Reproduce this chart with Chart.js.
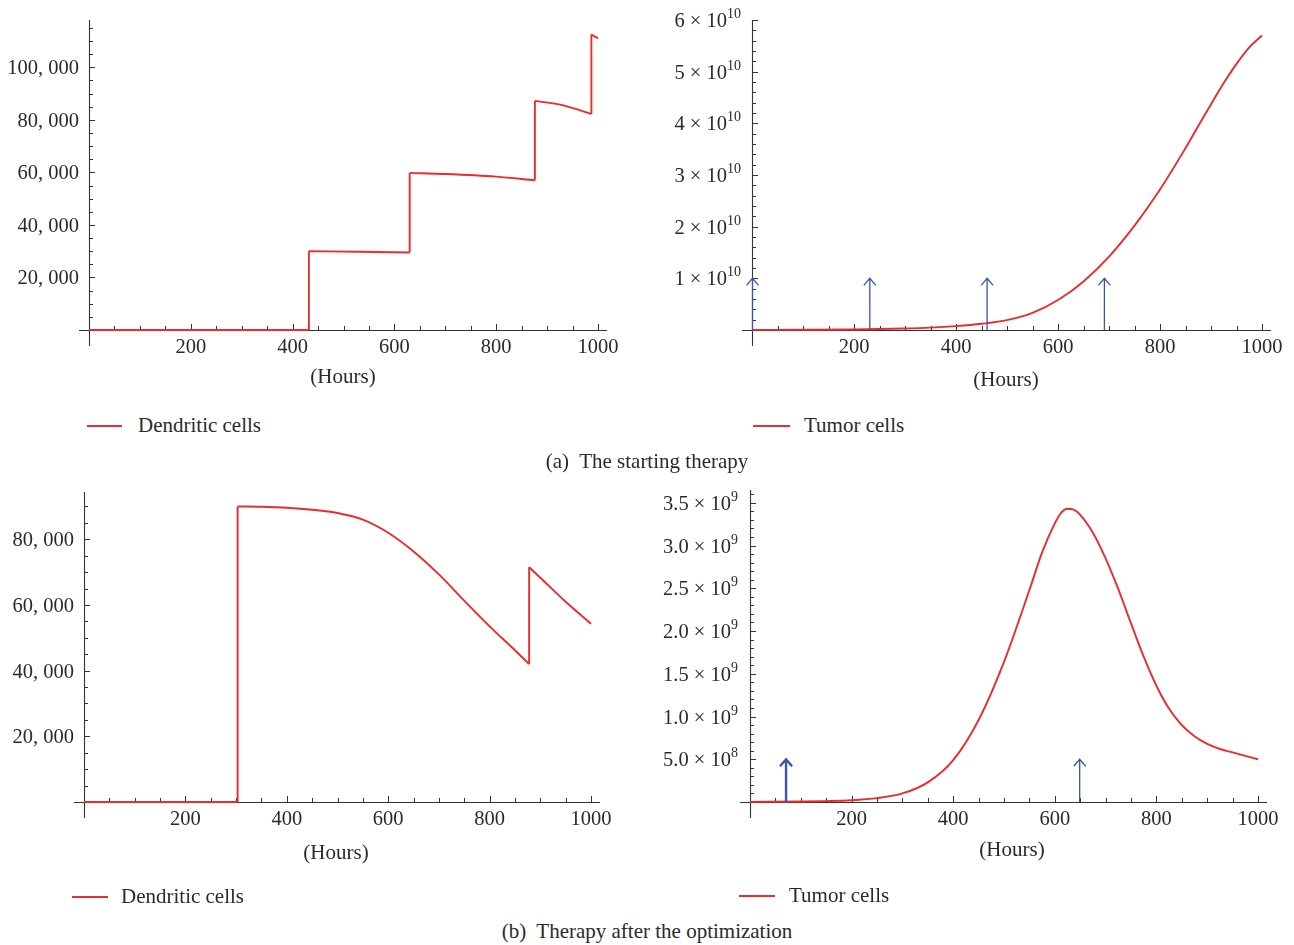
<!DOCTYPE html>
<html><head><meta charset="utf-8">
<script src="https://cdn.jsdelivr.net/npm/chart.js@4/dist/chart.umd.min.js"></script>
<style>
body{margin:0;background:#fff;width:1294px;height:945px;position:relative;overflow:hidden;font-family:"Liberation Serif","DejaVu Serif",serif;color:#2a2a2a}
canvas{position:absolute}
.t{position:absolute;font-size:21px;white-space:nowrap;line-height:22px}
.ctr{transform:translateX(-50%)}
.lg{position:absolute;height:2px;background:#ee2d2d}
</style></head><body>
<canvas id="c1" width="640" height="400" style="left:0;top:0"></canvas>
<canvas id="c2" width="654" height="400" style="left:640px;top:0"></canvas>
<canvas id="c3" width="640" height="430" style="left:0;top:470px"></canvas>
<canvas id="c4" width="654" height="430" style="left:640px;top:470px"></canvas>

<div class="t ctr" style="left:343px;top:365px">(Hours)</div>
<div class="t ctr" style="left:1006px;top:368px">(Hours)</div>
<div class="t ctr" style="left:336px;top:841px">(Hours)</div>
<div class="t ctr" style="left:1012px;top:838px">(Hours)</div>

<div class="lg" style="left:87px;top:425px;width:35px"></div>
<div class="t" style="left:138px;top:414px">Dendritic cells</div>
<div class="lg" style="left:753px;top:425px;width:37px"></div>
<div class="t" style="left:804px;top:414px">Tumor cells</div>
<div class="t ctr" style="left:647px;top:450px">(a)&nbsp; The starting therapy</div>

<div class="lg" style="left:72px;top:896px;width:36px"></div>
<div class="t" style="left:121px;top:885px">Dendritic cells</div>
<div class="lg" style="left:739px;top:895px;width:36px"></div>
<div class="t" style="left:789px;top:884px">Tumor cells</div>
<div class="t ctr" style="left:647px;top:920px">(b)&nbsp; Therapy after the optimization</div>

<script>
// ---------- DATA ----------
const xMajorTicks = [200, 400, 600, 800, 1000];

// (a) starting therapy: dendritic cells
const dcA_hours  = [0, 432, 432, 530, 630, 630, 700, 800, 876, 876, 930, 987, 987, 1000];
const dcA_values = [0, 0, 30000, 29800, 29500, 59800, 59400, 58400, 57000, 87200, 85600, 82200, 112500, 111000];
const dcA_yTicks = [20000, 40000, 60000, 80000, 100000];

// (a) starting therapy: tumor cells
const tcA_hours  = [0, 100, 200, 300, 350, 400, 450, 500, 550, 600, 650, 700, 750, 800, 850, 875, 900, 925, 950, 975, 1000];
const tcA_values = [0.002e10, 0.004e10, 0.01e10, 0.028e10, 0.045e10, 0.075e10, 0.12e10, 0.19e10, 0.33e10, 0.58e10, 0.94e10, 1.42e10, 2.02e10, 2.72e10, 3.52e10, 3.95e10, 4.37e10, 4.78e10, 5.15e10, 5.47e10, 5.7e10];
const tcA_doses  = [0, 230, 460, 690];
const tcA_yTicks = [1e10, 2e10, 3e10, 4e10, 5e10, 6e10];
const tcA_yLabels = [["1 × 10","10"],["2 × 10","10"],["3 × 10","10"],["4 × 10","10"],["5 × 10","10"],["6 × 10","10"]];

// (b) after optimization: dendritic cells
const dcB_hours  = [0, 303, 303, 350, 400, 450, 500, 550, 600, 650, 700, 750, 800, 850, 878, 878, 900, 950, 1000];
const dcB_values = [0, 0, 90000, 89900, 89600, 89000, 88000, 86000, 82000, 76300, 69300, 61300, 53500, 46200, 42000, 71500, 68300, 61000, 54300];
const dcB_yTicks = [20000, 40000, 60000, 80000];

// (b) after optimization: tumor cells
const tcB_hours  = [0, 100, 150, 200, 250, 300, 350, 400, 450, 500, 550, 575, 600, 612, 625, 637, 650, 675, 700, 725, 750, 775, 800, 825, 850, 875, 900, 925, 950, 975, 1000];
const tcB_values = [0.001e9, 0.005e9, 0.01e9, 0.02e9, 0.045e9, 0.1e9, 0.23e9, 0.49e9, 0.96e9, 1.64e9, 2.48e9, 2.92e9, 3.26e9, 3.38e9, 3.43e9, 3.42e9, 3.36e9, 3.15e9, 2.85e9, 2.49e9, 2.09e9, 1.70e9, 1.36e9, 1.09e9, 0.90e9, 0.77e9, 0.68e9, 0.62e9, 0.58e9, 0.54e9, 0.5e9];
const tcB_doses  = [70, 648];
const tcB_yTicks = [0.5e9, 1e9, 1.5e9, 2e9, 2.5e9, 3e9, 3.5e9];
const tcB_yLabels = [["5.0 × 10","8"],["1.0 × 10","9"],["1.5 × 10","9"],["2.0 × 10","9"],["2.5 × 10","9"],["3.0 × 10","9"],["3.5 × 10","9"]];

// ---------- HELPERS ----------
const RED = '#ee2a2a', BLUE = '#3a54b0', AX = '#333';
const FONT = '"Liberation Serif","DejaVu Serif",serif';

function segments(hours, values) {
  const sets = []; let cur = [];
  for (let i = 0; i < hours.length; i++) {
    cur.push({x: hours[i], y: values[i]});
    if (i < hours.length - 1 && hours[i + 1] === hours[i]) {
      sets.push(cur);
      sets.push([{x: hours[i], y: values[i]}, {x: hours[i + 1], y: values[i + 1]}]);
      cur = [];
    }
  }
  sets.push(cur);
  return sets.map(d => ({data: d, borderColor: RED, borderWidth: 1.9, pointRadius: 0,
    cubicInterpolationMode: 'monotone', tension: 0.4, clip: false, fill: false}));
}

function fmtThousands(v) {
  const s = String(v);
  return s.slice(0, s.length - 3) + ', ' + s.slice(s.length - 3);
}

const mathAxes = {
  id: 'mathAxes',
  beforeDatasetsDraw(chart, args, o) {
    const ctx = chart.ctx, xs = chart.scales.x, ys = chart.scales.y;
    const x0 = xs.getPixelForValue(0), y0 = ys.getPixelForValue(0);
    const yTop = ys.getPixelForValue(ys.max);
    ctx.save();
    ctx.strokeStyle = AX; ctx.lineWidth = 1.1;
    ctx.beginPath();
    ctx.moveTo(x0 - 10, y0 + 0.5); ctx.lineTo(xs.getPixelForValue(1000) + 9, y0 + 0.5);
    ctx.moveTo(x0 + 0.5, yTop); ctx.lineTo(x0 + 0.5, y0 + 16);
    ctx.stroke();
    ctx.lineWidth = 1;
    ctx.beginPath();
    for (let v = 50; v <= 1000; v += 50) {
      const p = Math.round(xs.getPixelForValue(v)) + 0.5;
      const len = (v % 200 === 0) ? 6 : 4;
      ctx.moveTo(p, y0); ctx.lineTo(p, y0 - len);
    }
    for (let v = o.yMinor; v <= ys.max + 1; v += o.yMinor) {
      const p = Math.round(ys.getPixelForValue(v)) + 0.5;
      const major = o.yTicks.some(t => Math.abs(t - v) < o.yMinor / 10);
      ctx.moveTo(x0, p); ctx.lineTo(x0 + (major ? 6 : 4), p);
    }
    ctx.stroke();
    ctx.fillStyle = '#2a2a2a';
    ctx.font = '20.5px ' + FONT;
    ctx.textAlign = 'center'; ctx.textBaseline = 'alphabetic';
    xMajorTicks.forEach(v => ctx.fillText(String(v), xs.getPixelForValue(v), y0 + 23));
    ctx.textAlign = 'right';
    o.yTicks.forEach((v, i) => {
      const p = ys.getPixelForValue(v);
      const xr = x0 - o.gap;
      if (o.yLabels) {
        const [base, sup] = o.yLabels[i];
        ctx.font = '14px ' + FONT;
        const sw = ctx.measureText(sup).width;
        ctx.fillText(sup, xr, p - 2);
        ctx.font = '20.5px ' + FONT;
        ctx.fillText(base, xr - sw, p + 7);
      } else {
        ctx.fillText(fmtThousands(v), xr, p + 7);
      }
    });
    ctx.restore();
  },
  afterDatasetsDraw(chart, args, o) {
    if (!o.doses) return;
    const ctx = chart.ctx, xs = chart.scales.x, ys = chart.scales.y;
    const y0 = ys.getPixelForValue(0), yt = ys.getPixelForValue(o.doseLevel);
    ctx.save();
    ctx.strokeStyle = BLUE;
    o.doses.forEach((d, i) => {
      const p = xs.getPixelForValue(d) + 0.5;
      ctx.lineWidth = (o.boldFirst && i === 0) ? 2.4 : 1.3;
      ctx.beginPath();
      ctx.moveTo(p, y0); ctx.lineTo(p, yt);
      ctx.moveTo(p - 6, yt + 7); ctx.lineTo(p, yt); ctx.lineTo(p + 6, yt + 7);
      ctx.stroke();
    });
    ctx.restore();
  }
};

function makeChart(id, hours, values, pad, ymax, axOpts) {
  new Chart(document.getElementById(id), {
    type: 'line',
    data: {datasets: segments(hours, values)},
    options: {
      responsive: false, animation: false, devicePixelRatio: 1,
      layout: {padding: pad},
      scales: {
        x: {type: 'linear', min: 0, max: 1000, display: false},
        y: {type: 'linear', min: 0, max: ymax, display: false}
      },
      plugins: {legend: {display: false}, tooltip: {enabled: false}, mathAxes: axOpts},
      events: []
    },
    plugins: [mathAxes]
  });
}

makeChart('c1', dcA_hours, dcA_values, {left: 89, right: 42, top: 20, bottom: 70}, 118000,
  {yTicks: dcA_yTicks, yMinor: 5000, gap: 10});
makeChart('c2', tcA_hours, tcA_values, {left: 112, right: 32, top: 20, bottom: 70}, 6e10,
  {yTicks: tcA_yTicks, yLabels: tcA_yLabels, yMinor: 0.2e10, gap: 11, doses: tcA_doses, doseLevel: 1e10});
makeChart('c3', dcB_hours, dcB_values, {left: 84, right: 49, top: 22, bottom: 98}, 94400,
  {yTicks: dcB_yTicks, yMinor: 5000, gap: 10});
makeChart('c4', tcB_hours, tcB_values, {left: 110, right: 36, top: 20, bottom: 98}, 3.65e9,
  {yTicks: tcB_yTicks, yLabels: tcB_yLabels, yMinor: 1e8, gap: 12, doses: tcB_doses, doseLevel: 0.5e9, boldFirst: true});
</script>
</body></html>
